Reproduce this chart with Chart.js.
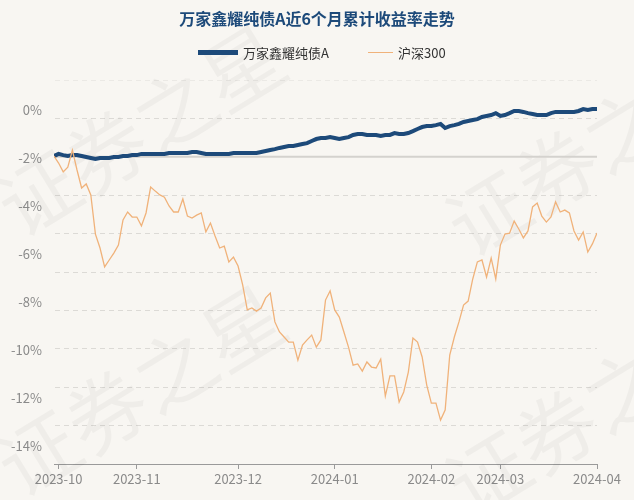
<!DOCTYPE html>
<html>
<head>
<meta charset="utf-8">
<script src="https://cdn.jsdelivr.net/npm/chart.js@4/dist/chart.umd.min.js"></script>
<style>
  html, body { margin: 0; padding: 0; background: #f8f6f2; }
  body { width: 634px; height: 500px; position: relative; overflow: hidden; font-family: "Noto Sans CJK SC", sans-serif; }
  #title { position: absolute; top: 6px; left: 0; width: 634px; text-align: center; font-size: 16px; font-weight: bold; color: #1d4a7a; }
  .lg { position: absolute; top: 43px; font-size: 13px; color: #333; }
  .sw { position: absolute; height: 0; }
  #wrap { position: absolute; left: 0; top: 0; width: 634px; height: 500px; }
</style>
</head>
<body>
<div id="wrap"><canvas id="c" width="634" height="500"></canvas></div>
<div id="title">万家鑫耀纯债A近6个月累计收益率走势</div>
<div class="sw" style="left:198px;top:50px;width:40px;border-top:5px solid #1d4a7a;"></div>
<div class="lg" style="left:243px;">万家鑫耀纯债A</div>
<div class="sw" style="left:368px;top:52px;width:25px;border-top:1px solid #f0b27a;"></div>
<div class="lg" style="left:398px;">沪深300</div>
<script>
// 数据（按交易日索引）
const tickIdx = [1, 18, 40, 61, 82, 97, 118];
const tickLabels = ['2023-10', '2023-11', '2023-12', '2024-01', '2024-02', '2024-03', '2024-04'];
const yTicks = [0, -2, -4, -6, -8, -10, -12, -14];

const fundSeries = [-1.92,-1.83,-1.88,-1.92,-1.88,-1.88,-1.92,-1.96,-2.0,-2.04,-2.0,-2.0,-2.0,-1.96,-1.96,-1.92,-1.92,-1.88,-1.88,-1.83,
  -1.83,-1.83,-1.83,-1.83,-1.83,-1.79,-1.79,-1.79,-1.79,-1.79,-1.75,-1.75,-1.79,-1.83,-1.83,-1.83,-1.83,-1.83,-1.83,-1.79,
  -1.79,-1.79,-1.79,-1.79,-1.79,-1.75,-1.71,-1.67,-1.63,-1.58,-1.54,-1.5,-1.5,-1.46,-1.42,-1.38,-1.29,-1.21,-1.17,-1.17,
  -1.13,-1.17,-1.21,-1.17,-1.13,-1.04,-1.0,-1.0,-1.04,-1.04,-1.04,-1.08,-1.04,-1.04,-0.96,-1.0,-1.0,-0.96,-0.88,-0.79,
  -0.71,-0.67,-0.67,-0.63,-0.58,-0.75,-0.67,-0.63,-0.58,-0.5,-0.46,-0.42,-0.38,-0.29,-0.25,-0.21,-0.13,-0.25,-0.21,-0.13,
  -0.04,-0.04,-0.08,-0.13,-0.17,-0.21,-0.21,-0.21,-0.13,-0.08,-0.08,-0.08,-0.08,-0.08,-0.04,0.04,0,0.04,0.04];

const hs300Series = [-1.92,-2.21,-2.58,-2.38,-1.67,-2.5,-3.25,-3.08,-3.54,-5.17,-5.75,-6.54,-6.25,-5.96,-5.63,-4.58,-4.25,-4.46,-4.46,-4.83,
  -4.29,-3.21,-3.38,-3.54,-3.63,-4.0,-4.25,-4.25,-3.71,-4.42,-4.5,-4.38,-4.29,-5.08,-4.71,-5.25,-5.75,-5.67,-6.33,-6.13,
  -6.5,-7.29,-8.33,-8.25,-8.38,-8.25,-7.83,-7.63,-8.83,-9.25,-9.46,-9.67,-9.67,-10.42,-9.79,-9.58,-9.38,-9.88,-9.58,-7.92,
  -7.54,-8.33,-8.63,-9.25,-9.88,-10.63,-10.58,-10.88,-10.5,-10.71,-10.75,-10.38,-11.92,-11.08,-11.08,-12.17,-11.75,-10.92,-9.5,-9.67,
  -10.29,-11.46,-12.21,-12.21,-12.92,-12.5,-10.21,-9.46,-8.83,-8.13,-7.96,-7.04,-6.33,-6.25,-6.96,-6.17,-7.04,-5.63,-5.17,-5.13,
  -4.63,-4.96,-5.33,-5.04,-4.04,-3.88,-4.42,-4.67,-4.46,-3.83,-4.25,-4.17,-4.29,-5.04,-5.42,-5.08,-5.92,-5.58,-5.13];

const toXY = arr => arr.map((v, i) => ({ x: i, y: v }));

// 背景水印 + 实线基准
const decor = {
  id: 'decor',
  beforeDatasetsDraw(chart) {
    const { ctx, chartArea: a, scales } = chart;
    ctx.save();
    ctx.fillStyle = 'rgba(0,0,0,0.035)';
    ctx.font = '80px "Noto Sans CJK SC"';
    [[20, 240], [20, 500], [470, 260], [470, 520]].forEach(([x, y]) => {
      ctx.save(); ctx.translate(x, y); ctx.rotate(-0.55); ctx.fillText('证券之星', 0, 0); ctx.restore();
    });
    const y = scales.g.getPixelForValue(8);
    ctx.strokeStyle = '#d4d2ce'; ctx.lineWidth = 2;
    ctx.beginPath(); ctx.moveTo(a.left, y); ctx.lineTo(a.right, y); ctx.stroke();
    ctx.restore();
  }
};

new Chart(document.getElementById('c'), {
  type: 'line',
  data: {
    datasets: [
      { data: toXY(hs300Series), borderColor: '#f0b27a', borderWidth: 1.3, pointRadius: 0, tension: 0 },
      { data: toXY(fundSeries), borderColor: '#1d4a7a', borderWidth: 4, pointRadius: 0, tension: 0 },
    ],
  },
  options: {
    responsive: false,
    animation: false,
    layout: { padding: { top: 80, right: 37, left: 0, bottom: 0 } },
    plugins: { legend: { display: false }, tooltip: { enabled: false } },
    scales: {
      x: {
        type: 'linear', min: 0, max: fundSeries.length - 1,
        afterBuildTicks: s => { s.ticks = tickIdx.map(v => ({ value: v })); },
        afterFit: s => { s.height = 36; },
        ticks: { callback: (v) => tickLabels[tickIdx.indexOf(v)], color: '#8a8a8a', font: { size: 13, family: 'Noto Sans CJK SC' }, maxRotation: 0, autoSkip: false, padding: 2 },
        grid: { drawOnChartArea: false, tickLength: 5, color: '#9a9a9a' },
        border: { color: '#9a9a9a' },
      },
      y: {
        min: -14.75, max: 1.25,
        afterBuildTicks: s => { s.ticks = yTicks.map(v => ({ value: v })); },
        afterFit: s => { s.width = 54; },
        ticks: { callback: v => v + '%', color: '#8a8a8a', font: { size: 13, family: 'Noto Sans CJK SC' }, padding: 4 },
        grid: { display: false },
        border: { display: false },
      },
      g: {
        position: 'left', min: 0, max: 10,
        afterBuildTicks: s => { s.ticks = [0,1,2,3,4,5,6,7,9,10].map(v => ({ value: v })); },
        afterFit: s => { s.width = 0; },
        ticks: { display: false },
        grid: { color: s => s.tick.value === 10 ? '#ebe9e5' : '#dcdad6', lineWidth: 1, drawTicks: false },
        border: { display: true, color: 'rgba(0,0,0,0)', dash: [5, 4] },
      },
    },
  },
  plugins: [decor],
});
</script>
</body>
</html>
